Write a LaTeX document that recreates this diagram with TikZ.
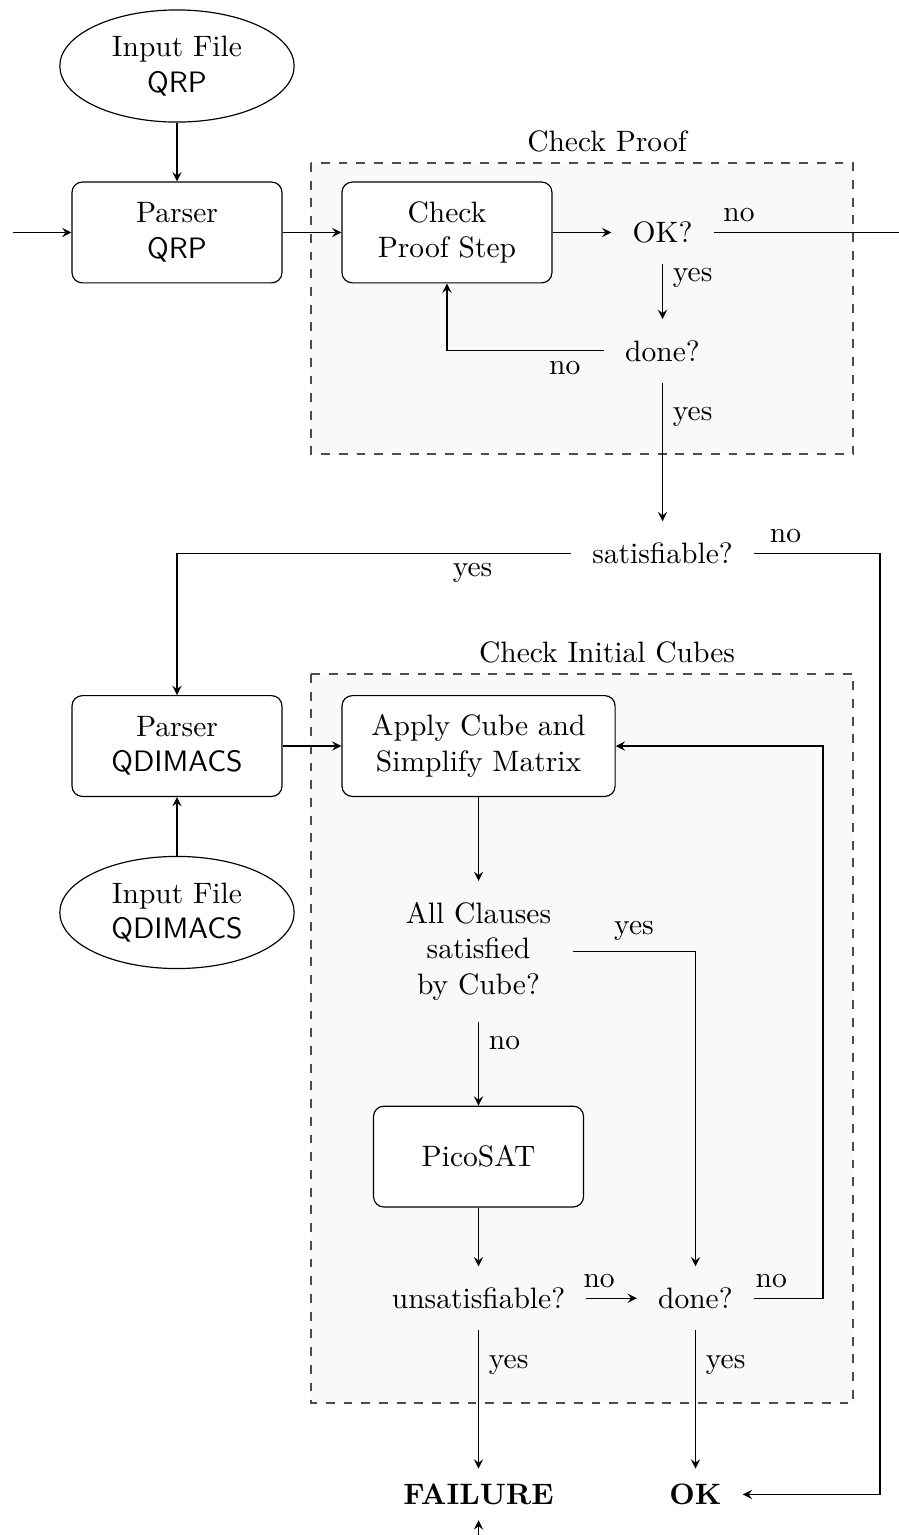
\documentclass[tikz,border=0pt]{standalone}
\usetikzlibrary{arrows.meta, positioning, shapes.geometric, calc}

\begin{document}
\begin{tikzpicture}[
    node distance=7mm,
    >=stealth,
    proc/.style={draw, rounded corners=3.5pt, fill=white, align=center,
                 minimum width=2.5cm, minimum height=1.2cm, inner xsep=10pt},
    infile/.style={draw, ellipse, align=center,
                   minimum width=2.79cm, minimum height=1.33cm},
    dec/.style={align=center, inner sep=7pt},
    term/.style={dec, inner ysep=5pt, font=\bfseries},
    group/.style={draw=black!70, dashed, fill=black!2.5},
    flow/.style={->},
]
\useasboundingbox (-2.107,0.786) rectangle (8.595,-17.488);
\clip (-2.107,0.786) rectangle (8.595,-17.488);
% dashed groups
\draw[group] (1.595,-1.155) rectangle (8.048,-4.619);
\node[above] (prooftitle) at (5.12,-1.155) {Check Proof};
\draw[group] (1.595,-7.238) rectangle (8.048,-15.917);
\node[above] (cubetitle) at (5.12,-7.238) {Check Initial Cubes};

\node[infile] (inqrp) at (0,0) {Input File\\\textsf{QRP}};
\node[proc, below=of inqrp] (parserqrp) {Parser\\\textsf{QRP}};
\node[proc, right=of parserqrp] (step) {Check\\Proof Step};
\node[dec, right=of step] (ok) {OK?};
\node[dec, below=6.5mm of ok] (done1) {done?};
\node[dec, below=1.65cm of done1] (sat) {satisfiable?};
\node[proc, below=4.9cm of parserqrp] (parserqd) {Parser\\\textsf{QDIMACS}};
\node[infile, below=of parserqd] (inqd) {Input File\\\textsf{QDIMACS}};
\node[proc, right=of parserqd] (apply) {Apply Cube and\\Simplify Matrix};
\node[dec, below=1cm of apply] (allcl) {All Clauses\\satisfied\\by Cube?};
\node[proc, below=1cm of allcl] (pico) {PicoSAT};
\node[dec, below=of pico] (unsat) {unsatisfiable?};
\node[dec, right=6mm of unsat] (done2) {done?};
\node[term, below=1.65cm of unsat] (failure) {FAILURE};
\node[term] (okfinal) at (failure -| done2) {OK};

\coordinate[left=of parserqrp] (inleft);
\coordinate[right=3cm of ok] (okexit);
\coordinate[below=1cm of failure] (failin);
\coordinate (rightrail) at (8.369,0);
\coordinate (loopback) at (7.69,0);

\draw[flow] (inleft) -- (parserqrp);
\draw[flow] (inqrp) -- (parserqrp);
\draw[flow] (parserqrp) -- (step);
\draw[flow] (step) -- (ok);
\draw[flow] (ok) -- node[above, pos=0.1]{no} (okexit);
\draw[flow] (ok) -- node[right, near start]{yes} (done1);
\draw[flow] (done1.west) -- node[below, near start]{no} (done1.west -| step) -- (step);
\draw[flow] (done1) -- node[right, near start]{yes} (sat);
\draw[flow] (sat.west) -- node[below, near start]{yes} (sat.west -| parserqd) -- (parserqd);
\draw[flow] (sat.east) -- node[above, near start]{no} (sat.east -| rightrail) |- (okfinal);
\draw[flow] (inqd) -- (parserqd);
\draw[flow] (parserqd) -- (apply);
\draw[flow] (apply) -- (allcl);
\draw[flow] (allcl) -- node[right, near start]{no} (pico);
\draw[flow] (allcl) -| node[above, near start]{yes} (done2);
\draw[flow] (pico) -- (unsat);
\draw[flow] (unsat) -- node[above, near start]{no} (done2);
\draw[flow] (done2.east) -- node[above, near start]{no} (done2.east -| loopback) |- (apply);
\draw[flow] (unsat) -- node[right, near start]{yes} (failure);
\draw[flow] (done2) -- node[right, near start]{yes} (okfinal);
\draw[flow] (failin) -- (failure);
\end{tikzpicture}
\end{document}
